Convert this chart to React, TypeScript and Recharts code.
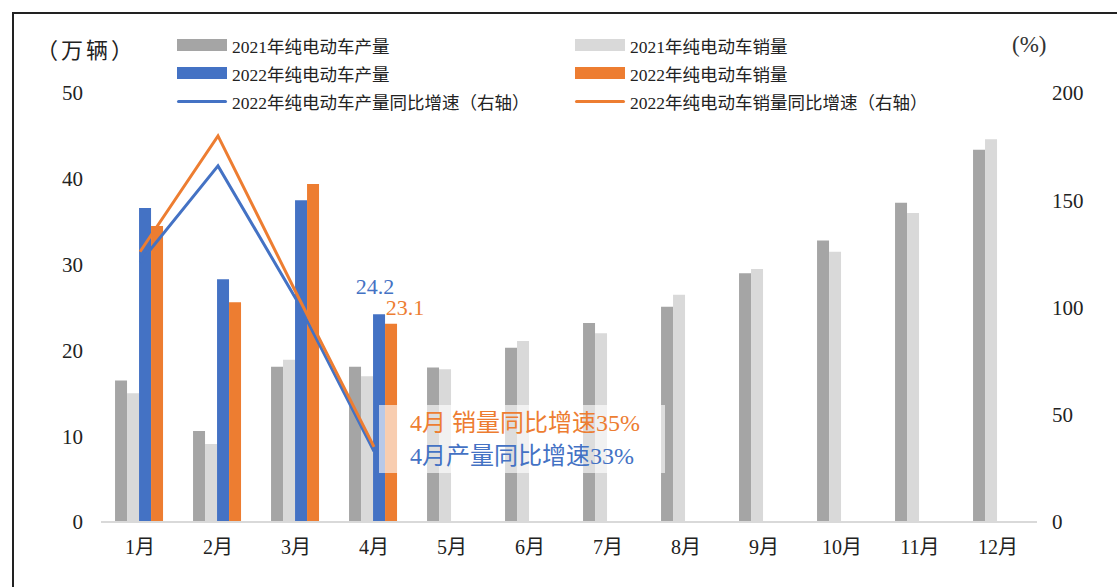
import {
  ComposedChart,
  Bar,
  Line,
  XAxis,
  YAxis,
} from "recharts";

const months = ["1月", "2月", "3月", "4月", "5月", "6月", "7月", "8月", "9月", "10月", "11月", "12月"];
const prod2021 = [16.5, 10.6, 18.1, 18.1, 18.0, 20.3, 23.2, 25.1, 29.0, 32.8, 37.2, 43.4];
const sales2021 = [15.0, 9.1, 18.9, 17.0, 17.8, 21.1, 22.0, 26.5, 29.5, 31.5, 36.0, 44.6];
const prod2022 = [36.6, 28.3, 37.5, 24.2];
const sales2022 = [34.5, 25.6, 39.4, 23.1];
const prodYoY2022 = [121, 166, 104, 33];
const salesYoY2022 = [126, 180, 107, 35];
const leftTicks = [0, 10, 20, 30, 40, 50];
const rightTicks = [0, 50, 100, 150, 200];

const GREY_DARK = "#a5a5a5";
const GREY_LIGHT = "#d9d9d9";
const BLUE = "#4472c4";
const ORANGE = "#ed7d31";
const FONT = "'Liberation Serif', 'Noto Sans CJK SC', serif";

const data = months.map((m, i) => ({
  month: m,
  p21: prod2021[i],
  s21: sales2021[i],
  p22: prod2022[i] ?? null,
  s22: sales2022[i] ?? null,
  py: prodYoY2022[i] ?? null,
  sy: salesYoY2022[i] ?? null,
}));

const legendItems = [
  { name: "2021年纯电动车产量", color: GREY_DARK, kind: "bar" },
  { name: "2021年纯电动车销量", color: GREY_LIGHT, kind: "bar" },
  { name: "2022年纯电动车产量", color: BLUE, kind: "bar" },
  { name: "2022年纯电动车销量", color: ORANGE, kind: "bar" },
  { name: "2022年纯电动车产量同比增速（右轴）", color: BLUE, kind: "line" },
  { name: "2022年纯电动车销量同比增速（右轴）", color: ORANGE, kind: "line" },
];

// only the April bars carry a value label
const aprilLabel = (color: string, dx: number, dy: number) => (props: any) => {
  const { x, y, width, value, index } = props;
  if (index !== 3 || value == null) return null;
  return (
    <text
      x={x + width / 2 + dx}
      y={y + dy}
      textAnchor="middle"
      fill={color}
      fontSize={22}
      fontFamily={FONT}
    >
      {value}
    </text>
  );
};

export default function App() {
  const tick = { fill: "#222", fontSize: 21, fontFamily: FONT };
  return (
    <div
      style={{
        position: "absolute",
        left: 0,
        top: 0,
        width: 1117,
        height: 587,
        background: "#fff",
        overflow: "hidden",
        fontFamily: FONT,
      }}
    >
      <div
        style={{
          position: "absolute",
          left: 12,
          top: 12,
          width: 1200,
          height: 700,
          borderLeft: "2px solid #222",
          borderTop: "2px solid #222",
        }}
      />
      <ComposedChart
        width={1117}
        height={587}
        data={data}
        margin={{ top: 93, right: 20, bottom: 25, left: 41 }}
        barCategoryGap="18%"
        barGap={0}
      >
        <XAxis
          dataKey="month"
          tickLine={false}
          tickSize={0}
          tickMargin={18}
          height={40}
          axisLine={{ stroke: GREY_LIGHT, strokeWidth: 2 }}
          tick={{ ...tick, fontSize: 20 }}
          interval={0}
        />
        <YAxis
          yAxisId="left"
          domain={[0, 50]}
          ticks={leftTicks}
          width={60}
          tickLine={false}
          tickSize={0}
          tickMargin={18}
          axisLine={false}
          tick={tick}
        />
        <YAxis
          yAxisId="right"
          orientation="right"
          domain={[0, 200]}
          ticks={rightTicks}
          width={60}
          tickLine={false}
          tickSize={0}
          tickMargin={15}
          axisLine={false}
          tick={tick}
        />
        <Bar yAxisId="left" dataKey="p21" fill={GREY_DARK} isAnimationActive={false} />
        <Bar yAxisId="left" dataKey="s21" fill={GREY_LIGHT} isAnimationActive={false} />
        <Bar
          yAxisId="left"
          dataKey="p22"
          fill={BLUE}
          isAnimationActive={false}
          label={aprilLabel(BLUE, -4, -20)}
        />
        <Bar
          yAxisId="left"
          dataKey="s22"
          fill={ORANGE}
          isAnimationActive={false}
          label={aprilLabel(ORANGE, 14, -9)}
        />
        <Line
          yAxisId="right"
          dataKey="py"
          stroke={BLUE}
          strokeWidth={3}
          dot={false}
          activeDot={false}
          isAnimationActive={false}
        />
        <Line
          yAxisId="right"
          dataKey="sy"
          stroke={ORANGE}
          strokeWidth={3}
          dot={false}
          activeDot={false}
          isAnimationActive={false}
        />
      </ComposedChart>

      <div
        style={{
          position: "absolute",
          left: 36,
          top: 32,
          fontSize: 22,
          letterSpacing: 3,
          color: "#222",
        }}
      >
        （万辆）
      </div>
      <div style={{ position: "absolute", left: 1012, top: 32, fontSize: 23, color: "#333" }}>
        (%)
      </div>

      <div
        style={{
          position: "absolute",
          left: 177,
          top: 31,
          display: "grid",
          gridTemplateColumns: "398px 398px",
          gridAutoRows: "28px",
          fontSize: 17.5,
          color: "#222",
        }}
      >
        {legendItems.map((it) => (
          <div key={it.name} style={{ display: "flex", alignItems: "center" }}>
            <span
              style={{
                display: "inline-block",
                width: 50,
                height: it.kind === "bar" ? 12 : 3,
                background: it.color,
                borderRadius: it.kind === "line" ? 2 : 0,
                marginRight: 5,
              }}
            />
            <span style={{ whiteSpace: "nowrap" }}>{it.name}</span>
          </div>
        ))}
      </div>

      <div
        style={{
          position: "absolute",
          left: 379,
          top: 405,
          width: 286,
          height: 68,
          background: "rgba(255,255,255,0.62)",
          boxSizing: "border-box",
          paddingLeft: 31,
          paddingTop: 2,
          fontSize: 24,
          lineHeight: "33px",
          whiteSpace: "nowrap",
        }}
      >
        <div style={{ color: ORANGE }}>4月 销量同比增速35%</div>
        <div style={{ color: BLUE }}>4月产量同比增速33%</div>
      </div>
    </div>
  );
}
